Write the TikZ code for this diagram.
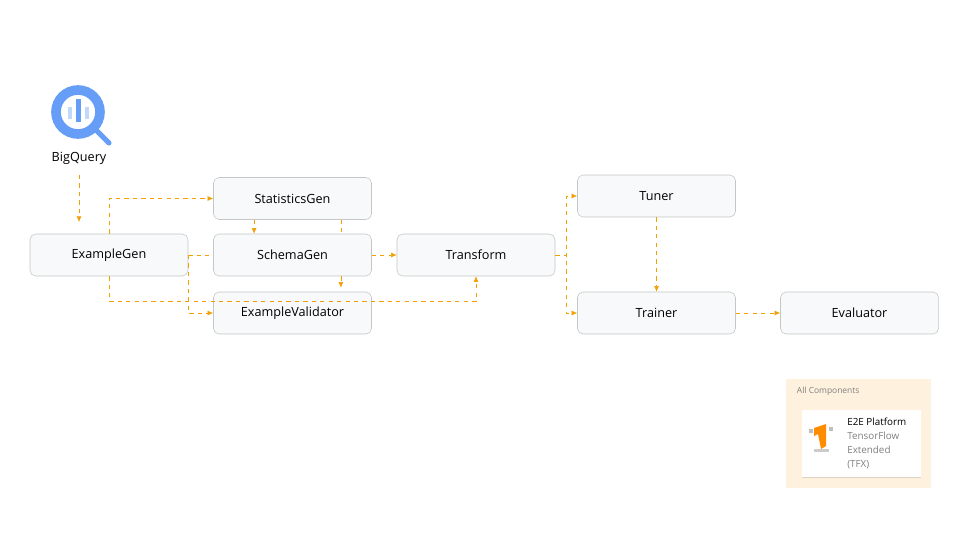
\documentclass[tikz,border=0pt]{standalone}
\usepackage{fontspec}
\setmainfont{Open Sans}
\usetikzlibrary{arrows.meta, positioning, shadows}
\definecolor{flow}{HTML}{F29F05}
\definecolor{boxline}{HTML}{C4C7C5}
\definecolor{boxfill}{HTML}{F8F9FA}
\definecolor{legendfill}{HTML}{FEF1DE}
\definecolor{bqblue}{HTML}{669DF6}
\tikzstyle{arrow} = [flow, dashed, thin, -{Latex[length=4pt,width=3.5pt]}]
\tikzstyle{link} = [flow, dashed, thin]
\tikzstyle{component} = [
rectangle, rounded corners=4pt, minimum width=3.95cm, minimum height=1.05cm,
text centered, draw=boxline, fill=boxfill, font=\fontsize{9}{11}\selectfont
]
\begin{document}
\begin{tikzpicture}[x=0.025cm, y=-0.025cm]
			\useasboundingbox (0,0) rectangle (960,540);
			% Componentes
			\node (ExampleGen) [component] at (109,255) {ExampleGen};
			\node (StatisticsGen) [component] at (292.5,198.5) {StatisticsGen};
			\node (SchemaGen) [component] at (292.5,255) {SchemaGen};
			\node (ExampleValidator) [component] at (292.5,313) {ExampleValidator};
			\node (Transform) [component] at (476,255) {Transform};
			\node (Tuner) [component] at (656.5,196) {Tuner};
			\node (Trainer) [component] at (656.5,313) {Trainer};
			\node (Evaluator) [component] at (859.5,313) {Evaluator};

			% BigQuery
			\node (BQ_icon) [circle, draw=bqblue, line width=2.4mm, minimum size=1.1cm] at (78,112) {};
			\draw [bqblue, line width=1.3mm, line cap=round] (BQ_icon.-45) -- ++(12,12);
			\fill [bqblue] (76,99) rectangle (81,122);
			\fill [bqblue!40] (68,107) rectangle (72,119);
			\fill [bqblue!40] (85,107) rectangle (89,119);
			\node (BigQuery) [font=\fontsize{9}{11}\selectfont] at (79,158) {BigQuery};
			\coordinate (BQ_out) at (79,175);
			\coordinate (EG_in) at (79,222);

			% Connections
			\draw [arrow] (BQ_out) -- (EG_in);
			\draw [arrow] (ExampleGen.north) |- (StatisticsGen.west);
			\draw [link] (ExampleGen.east) -- (SchemaGen.west);
			\draw [arrow] (ExampleGen.east) |- (ExampleValidator.west);
			\draw [arrow] (ExampleGen.south) -- ++(0,25) -| (Transform.south);
			\draw [arrow] ([xshift=-0.96cm]StatisticsGen.south) -- ([xshift=-0.96cm]SchemaGen.north);
			\draw [link] ([xshift=1.21cm]StatisticsGen.south) -- ([xshift=1.21cm]SchemaGen.north);
			\draw [arrow] ([xshift=1.21cm]SchemaGen.south) -- ([xshift=1.21cm,yshift=0.1cm]ExampleValidator.north);
			\draw [arrow] (SchemaGen) -- (Transform);
			\draw [arrow] (Transform.east) -- ++(11,0) |- (Tuner.west);
			\draw [arrow] (Transform.east) -- ++(11,0) |- (Trainer.west);
			\draw [arrow] (Tuner) -- (Trainer);
			\draw [arrow] (Trainer) -- (Evaluator);

			% Legenda
			\node (Legend) [rectangle, fill=legendfill, minimum width=3.625cm, minimum height=2.725cm] at (858.5,433.5) {};
			\node (Legend_title) [anchor=west, text=gray, font=\fontsize{6}{7}\selectfont] at (792,391) {All Components};
			\node (Card) [rectangle, fill=white, drop shadow={opacity=0.25, shadow xshift=0.3pt, shadow yshift=-0.6pt}, minimum width=2.975cm, minimum height=1.675cm] at (861.5,443.5) {};
			\node (Card_text) [anchor=north west, align=left, inner sep=0pt, font=\fontsize{7}{9.8}\selectfont] at (847,418) {E2E Platform\\\textcolor{gray}{TensorFlow}\\\textcolor{gray}{Extended}\\\textcolor{gray}{(TFX)}};
			\fill [orange!90!yellow] (814,428) -- (826,424) -- (826,446) -- (821,449) -- (818,434) -- (814,436) -- cycle;
			\fill [gray!50] (809,429) rectangle (813,433);
			\fill [gray!50] (829,427) rectangle (833,431);
			\fill [gray!40] (814,449) rectangle (829,452);
		\end{tikzpicture}
\end{document}
